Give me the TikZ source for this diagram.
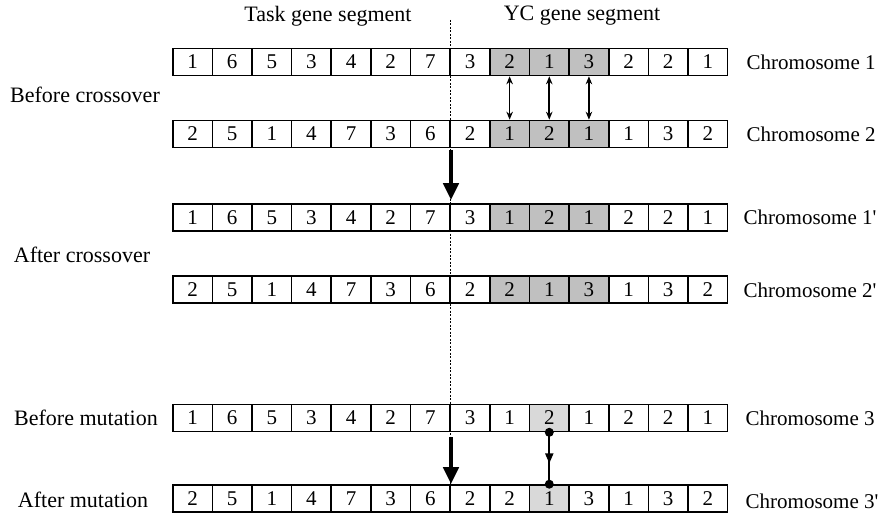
\documentclass[tikz,border=0pt]{standalone}
\usepackage{fontspec}
\setmainfont{Liberation Serif}
\usepackage{tikz}
\usetikzlibrary{arrows.meta, positioning, decorations.markings}

\definecolor{ycgray}{RGB}{192,192,192}
\definecolor{mutgray}{RGB}{217,217,217}

\tikzset{
  lbl/.style={inner sep=0pt, font=\fontsize{22}{24}\selectfont},
  chlbl/.style={inner sep=0pt, font=\fontsize{21}{24}\selectfont},
  gene/.style={draw, line width=1.6pt, minimum width=39.64pt, minimum height=27pt,
               inner sep=0pt, font=\fontsize{21}{24}\selectfont},
  swaparrow/.style={line width=1.7pt, {Stealth[length=8pt,width=6.5pt]}-{Stealth[length=8pt,width=6.5pt]}},
  bigarrow/.style={line width=4.5pt, -{Triangle[length=17pt,width=15pt]}},
  cutline/.style={line width=1.4pt, dash pattern=on 2pt off 1.5pt},
  mutline/.style={line width=1.7pt, postaction={decorate},
    decoration={markings, mark=at position 0.6 with {\arrow{Triangle[length=10pt,width=8pt]}}}}
}

\begin{document}
\begin{tikzpicture}[x=1pt, y=-1pt]

                \useasboundingbox (0,0) rectangle (886,516);

                % Draw the cut between the two gene segments
                \coordinate (cuttop) at (450.2, 20);
                \draw[cutline] (cuttop) -- (450.2, 512);

                % Draw the chromosomes (one row of genes each)
                \foreach \r/\y/\lo/\hi/\col/\genes in {
                    a/62/9/11/ycgray/{1,6,5,3,4,2,7,3,2,1,3,2,2,1},
                    b/134/9/11/ycgray/{2,5,1,4,7,3,6,2,1,2,1,1,3,2},
                    c/217.5/9/11/ycgray/{1,6,5,3,4,2,7,3,1,2,1,2,2,1},
                    d/289.5/9/11/ycgray/{2,5,1,4,7,3,6,2,2,1,3,1,3,2},
                    e/418/10/10/mutgray/{1,6,5,3,4,2,7,3,1,2,1,2,2,1},
                    f/498.5/10/10/mutgray/{2,5,1,4,7,3,6,2,2,1,3,1,3,2}} {
                    \foreach \v [count=\i] in \genes {
                        \ifnum\i<\lo \def\fc{white}\else\ifnum\i>\hi \def\fc{white}\else\def\fc{\col}\fi\fi
                        \node[gene, fill=\fc] (\r\i) at ({172.7+39.64*(\i-0.5)}, \y) {\v};
                    }
                }

                % Add labels to the segments
                \node[lbl] (task) at (328, 16) {Task gene segment};
                \node[lbl] (yc) at (582, 16) {YC gene segment};

                % Add labels to the steps
                \node[lbl] (bcross) at (85, 95) {Before crossover};
                \node[lbl] (across) at (82, 255) {After crossover};
                \node[lbl] (bmut) at (86, 418) {Before mutation};
                \node[lbl] (amut) at (83, 500) {After mutation};

                % Add labels to the chromosomes
                \node[chlbl, right=18pt of a14] (ch1) {Chromosome 1};
                \node[chlbl, right=18pt of b14] (ch2) {Chromosome 2};
                \node[chlbl, right=15pt of c14] (ch1p) {Chromosome 1\textquotesingle};
                \node[chlbl, right=15pt of d14, yshift=-1pt] (ch2p) {Chromosome 2\textquotesingle};
                \node[chlbl, right=17pt of e14] (ch3) {Chromosome 3};
                \node[chlbl, right=17pt of f14, yshift=-3pt] (ch3p) {Chromosome 3\textquotesingle};

                % Exchange of the YC genes
                \foreach \i in {9, 10, 11} {
                    \draw[swaparrow] (a\i.south) -- (b\i.north);
                }
                \draw[bigarrow, shorten <=2pt, shorten >=3pt] (b7.south east) -- (c7.north east);

                % Mutation of one YC gene
                \draw[bigarrow, shorten <=5pt] (e7.south east) -- (f7.north east);
                \draw[mutline] (e10.south) -- (f10.north);
                \fill (e10.south) circle (4.5pt);
                \fill (f10.north) circle (4.5pt);

                \end{tikzpicture}
\end{document}
